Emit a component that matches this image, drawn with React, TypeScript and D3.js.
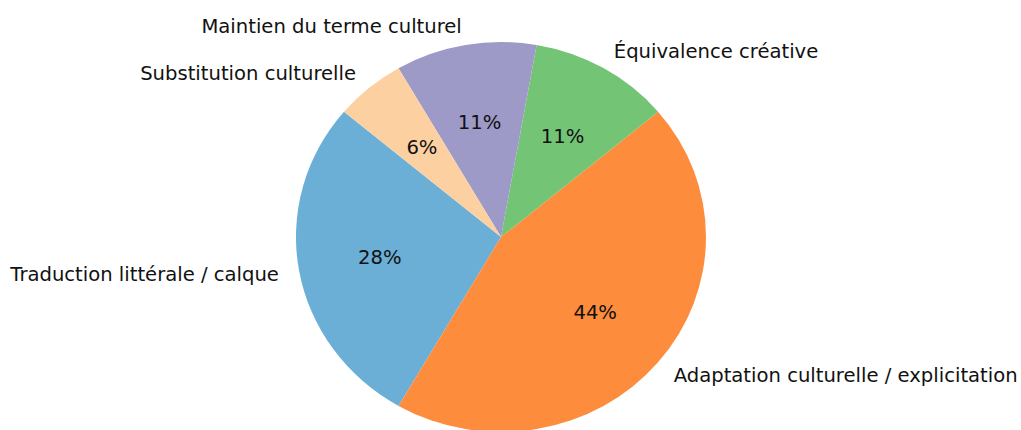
import React from "react";
import * as d3 from "d3";

const categories = [
  "Traduction littérale / calque",
  "Adaptation culturelle / explicitation",
  "Équivalence créative",
  "Maintien du terme culturel",
  "Substitution culturelle",
];
const counts = [5, 8, 2, 2, 1];
const colors = ["#6baed6", "#fd8d3c", "#74c476", "#9e9ac8", "#fdd0a2"];

const W = 1021;
const H = 430;
const cx = 501;
const cy = 237;
const rx = 205;
const ry = 195;
const startDeg = 140;

export default function App() {
  const total = d3.sum(counts);
  const fracs = counts.map((c) => c / total);
  let acc = startDeg;
  const slices = fracs.map((f, i) => {
    const a0 = acc;
    const a1 = acc + f * 360;
    acc = a1;
    return { i, a0, a1, f };
  });
  // d3.arc angles: 0 at 12 o'clock, clockwise. Matplotlib: 0 at 3 o'clock, CCW.
  const toD3 = (deg: number) => ((90 - deg) * Math.PI) / 180;
  const arc = d3.arc<any>().innerRadius(0).outerRadius(ry);
  const fmt = (f: number) => `${Math.round(f * 100)}%`;
  const fs = 19.6;
  return (
    <svg
      width={W}
      height={H}
      style={{ position: "absolute", left: 0, top: 0 }}
      fontFamily="DejaVu Sans"
    >
      <rect width={W} height={H} fill="#fff" />
      <g transform={`translate(${cx},${cy}) scale(${rx / ry},1)`}>
        {slices.map((s) => (
          <path
            key={s.i}
            d={arc({ startAngle: toD3(s.a1), endAngle: toD3(s.a0) }) as string}
            fill={colors[s.i]}
          />
        ))}
      </g>
      {slices.map((s) => {
        const mid = (((s.a0 + s.a1) / 2) * Math.PI) / 180;
        const lx = cx + 1.1 * rx * Math.cos(mid);
        const ly = cy - 1.1 * ry * Math.sin(mid);
        const px = cx + 0.6 * rx * Math.cos(mid);
        const py = cy - 0.6 * ry * Math.sin(mid);
        return (
          <g key={s.i}>
            <text
              x={lx}
              y={ly}
              dy="0.35em"
              fontSize={fs}
              textAnchor={Math.cos(mid) >= 0 ? "start" : "end"}
              fill="#111"
            >
              {categories[s.i]}
            </text>
            <text x={px} y={py} dy="0.35em" fontSize={fs} textAnchor="middle" fill="#111">
              {fmt(s.f)}
            </text>
          </g>
        );
      })}
    </svg>
  );
}
